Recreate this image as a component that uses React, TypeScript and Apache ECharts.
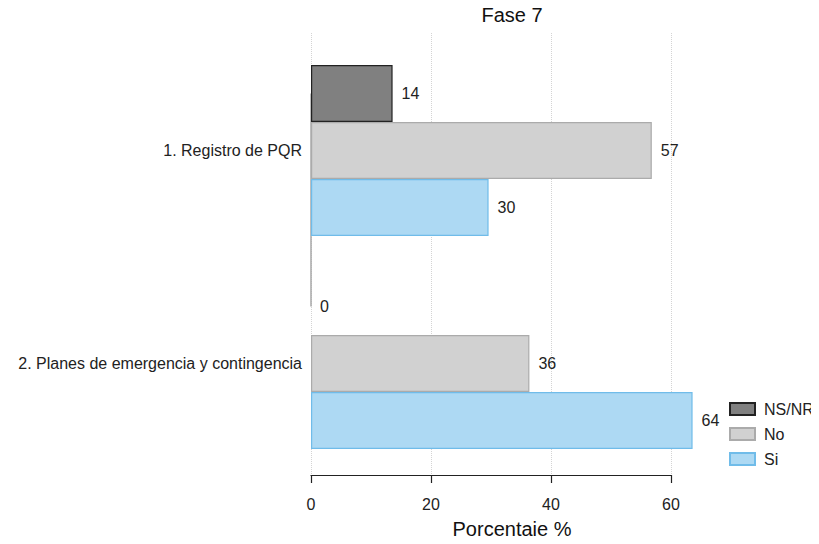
import React, { useEffect, useRef } from "react";
import * as echarts from "echarts";

const categories = ["1. Registro de PQR", "2. Planes de emergencia y contingencia"];
const seriesNames = ["NS/NR", "No", "Si"];
const nsnrValues = [13.6, 0];
const noValues = [56.8, 36.4];
const siValues = [29.6, 63.6];
const xTicks = [0, 20, 40, 60];

const FONT = "Liberation Sans, Arial, sans-serif";

export default function App() {
  const ref = useRef<HTMLDivElement>(null);
  useEffect(() => {
    const chart = echarts.init(ref.current!, null, { renderer: "svg" });
    const labelCfg = {
      show: true,
      position: "right",
      distance: 9,
      fontSize: 16,
      fontFamily: FONT,
      color: "#222",
      formatter: (p: any) => String(Math.round(p.value)),
    };
    const styles = [
      { color: "#808080", borderColor: "#222222", borderWidth: 1.2 },
      { color: "#d1d1d1", borderColor: "#ababab", borderWidth: 1.2 },
      { color: "#add9f3", borderColor: "#70bce9", borderWidth: 1.2 },
    ];
    const values = [nsnrValues, noValues, siValues];
    const series: any[] = seriesNames.map((name, i) => ({
      name,
      type: "bar",
      xAxisIndex: 0,
      yAxisIndex: 0,
      data: values[i].map((v) => (v === 0 ? { value: v, itemStyle: { borderWidth: 0 } } : v)),
      barWidth: 57,
      barGap: "0%",
      itemStyle: styles[i],
      label: labelCfg,
      z: 3,
    }));
    series[0].markLine = {
      silent: true,
      symbol: "none",
      label: { show: false },
      lineStyle: { color: "#a8a8a8", type: "solid", width: 1.5 },
      z: 1,
      data: [[{ coord: [0, categories[0]] }, { coord: [0, categories[1]] }]],
    };
    chart.setOption({
      animation: false,
      backgroundColor: "#ffffff",
      title: [
        {
          text: "Fase 7",
          left: 512,
          textAlign: "center",
          top: 5,
          padding: 0,
          textStyle: { fontSize: 20, fontWeight: "normal", color: "#111", fontFamily: FONT },
        },
        {
          text: "Porcentaje %",
          left: 512,
          textAlign: "center",
          top: 519,
          padding: 0,
          textStyle: { fontSize: 20, fontWeight: "normal", color: "#111", fontFamily: FONT },
        },
      ],
      legend: {
        orient: "vertical",
        left: 729,
        top: 401,
        padding: 0,
        itemWidth: 25,
        itemHeight: 12,
        itemGap: 9,
        icon: "rect",
        data: seriesNames,
        textStyle: {
          fontSize: 16,
          color: "#222",
          fontFamily: FONT,
          lineHeight: 16,
          padding: [0, 0, 0, 4],
          overflow: "none",
          width: 80,
        },
      },
      grid: [
        { left: 311, top: 44, width: 402, height: 426, outerBoundsMode: "none" },
        { left: 311, top: 33, width: 360, height: 442, outerBoundsMode: "none" },
      ],
      xAxis: [
        {
          type: "value",
          gridIndex: 0,
          min: 0,
          max: 67,
          show: false,
          splitLine: { show: false },
        },
        {
          type: "value",
          gridIndex: 1,
          min: xTicks[0],
          max: xTicks[xTicks.length - 1],
          interval: 20,
          offset: 7,
          position: "bottom",
          axisLine: { show: true, lineStyle: { color: "#222", width: 1.2 } },
          axisTick: { show: true, length: 8, lineStyle: { color: "#222", width: 1.2 } },
          axisLabel: { fontSize: 16, color: "#222", fontFamily: FONT, margin: 14 },
          splitLine: { show: true, lineStyle: { color: "#d4d4d4", type: "dotted", width: 1 } },
        },
      ],
      yAxis: [
        {
          type: "category",
          gridIndex: 0,
          data: categories,
          inverse: true,
          axisLine: { show: false },
          axisTick: { show: false },
          axisLabel: { fontSize: 16, color: "#222", fontFamily: FONT, margin: 9 },
          splitLine: { show: false },
        },
        {
          type: "value",
          gridIndex: 1,
          show: false,
          min: 0,
          max: 1,
        },
      ],
      series,
    });
    return () => chart.dispose();
  }, []);
  return <div ref={ref} style={{ width: 819, height: 544, margin: -8 }} />;
}
